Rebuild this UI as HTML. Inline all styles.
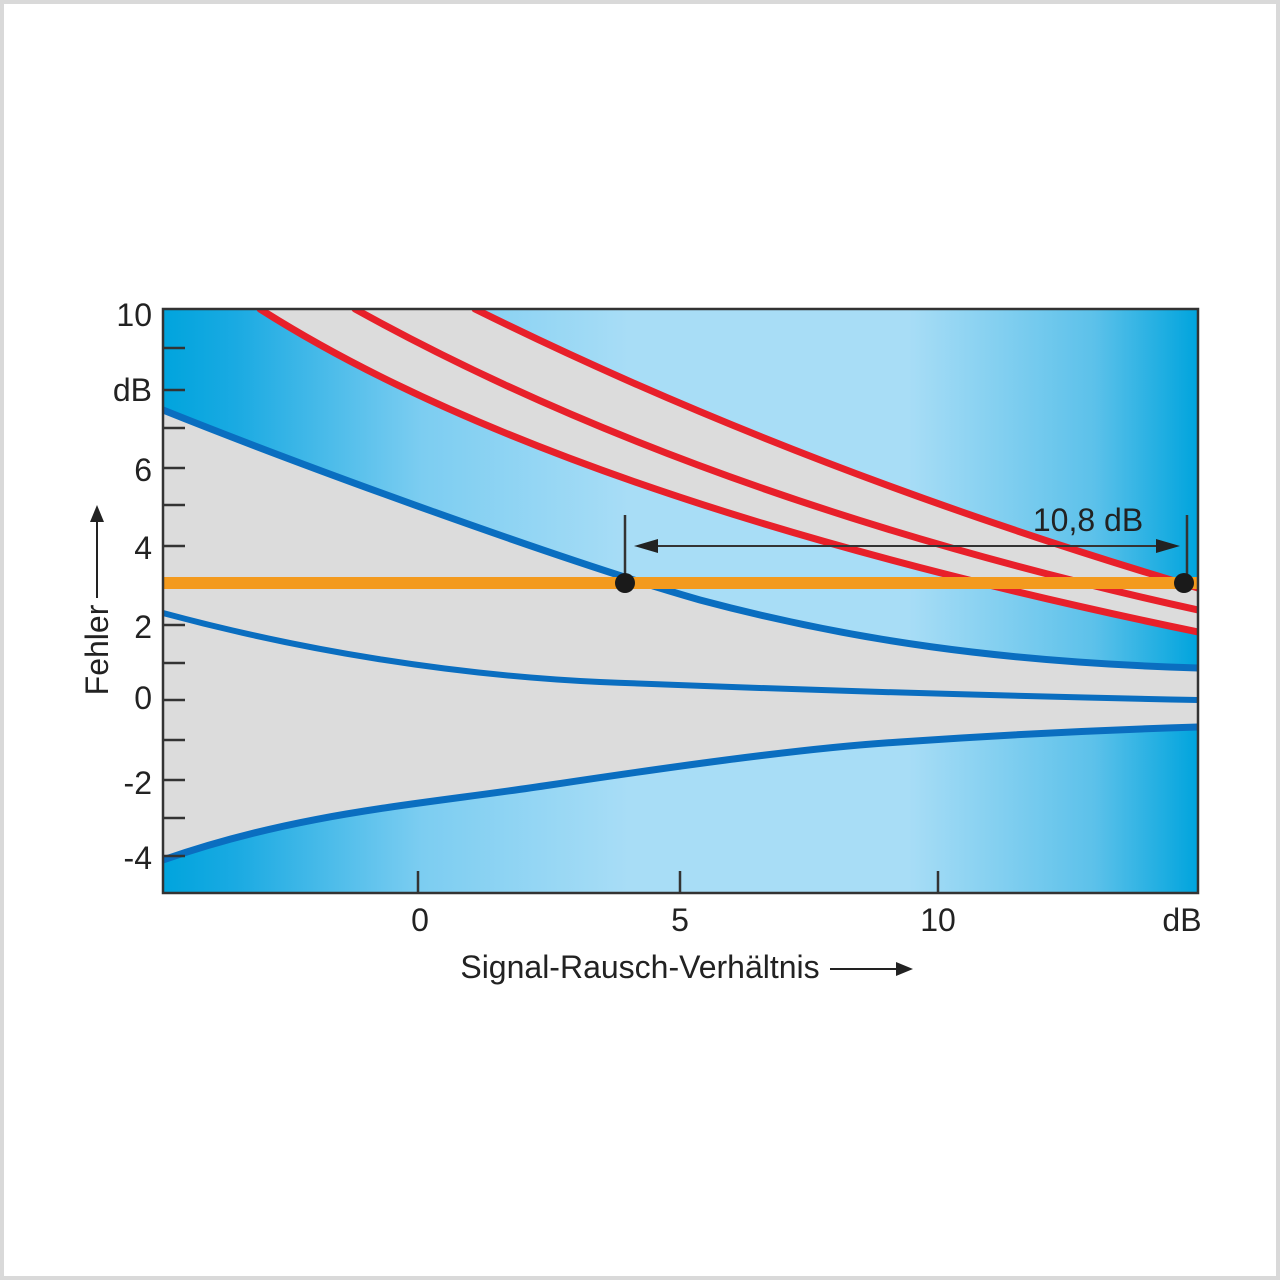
<!DOCTYPE html>
<html><head><style>
html,body{margin:0;padding:0;background:#fff}
</style></head><body>
<svg width="1280" height="1280" viewBox="0 0 1280 1280" xmlns="http://www.w3.org/2000/svg" font-family="Liberation Sans Narrow, Liberation Sans, sans-serif">
<defs>
<linearGradient id="bg" x1="163" y1="0" x2="1198" y2="0" gradientUnits="userSpaceOnUse">
<stop offset="0" stop-color="#00a4dd"/>
<stop offset="0.07" stop-color="#1aaae2"/>
<stop offset="0.25" stop-color="#7ccdf1"/>
<stop offset="0.45" stop-color="#a8ddf6"/>
<stop offset="0.72" stop-color="#a8ddf6"/>
<stop offset="0.9" stop-color="#5cc1ea"/>
<stop offset="1" stop-color="#00a4dd"/>
</linearGradient>
<clipPath id="c"><rect x="163" y="309" width="1035" height="584"/></clipPath>
</defs>
<rect x="2" y="2" width="1276" height="1276" fill="#fff" stroke="#d9d9d9" stroke-width="4"/>
<rect x="163" y="309" width="1035" height="584" fill="url(#bg)"/>
<g clip-path="url(#c)">
<path fill="#dcdcdc" d="M163,410 C300,465 560,560 700,600 C850,640 1000,662 1198,668 L1198,727 C1100,730 1000,735 900,742 C800,748 650,770 550,785 C418,805 300,812 163,860 Z"/>
<path fill="#dcdcdc" d="M260,309 Q560,500 1198,632 L1198,588 Q800,470 475,309 Z"/>
<g fill="none" stroke-linejoin="round" stroke-linecap="round">
<path stroke="#e8202a" stroke-width="7" d="M260,309 Q560,500 1198,632"/>
<path stroke="#e8202a" stroke-width="7" d="M355,309 Q700,500 1198,610"/>
<path stroke="#e8202a" stroke-width="7" d="M475,309 Q800,470 1198,588"/>
<path stroke="#0a6ec0" stroke-width="7" d="M163,410 C300,465 560,560 700,600 C850,640 1000,662 1198,668"/>
<path stroke="#0a6ec0" stroke-width="6" d="M163,613 C300,650 450,675 600,682 C800,690 1000,696 1198,700"/>
<path stroke="#0a6ec0" stroke-width="7" d="M163,860 C300,812 418,805 550,785 C650,770 800,748 900,742 C1000,735 1100,730 1198,727"/>
</g>
<rect x="163" y="577" width="1035" height="12" fill="#f39a1e"/>
</g>
<rect x="163" y="309" width="1035" height="584" fill="none" stroke="#333" stroke-width="2.5"/>
<g stroke="#333" stroke-width="2.5">
<line x1="163" y1="348" x2="185" y2="348"/><line x1="163" y1="390" x2="185" y2="390"/>
<line x1="163" y1="428" x2="185" y2="428"/><line x1="163" y1="468" x2="185" y2="468"/>
<line x1="163" y1="505" x2="185" y2="505"/><line x1="163" y1="546" x2="185" y2="546"/>
<line x1="163" y1="625" x2="185" y2="625"/><line x1="163" y1="663" x2="185" y2="663"/>
<line x1="163" y1="700" x2="185" y2="700"/><line x1="163" y1="740" x2="185" y2="740"/>
<line x1="163" y1="780" x2="185" y2="780"/><line x1="163" y1="818" x2="185" y2="818"/>
<line x1="163" y1="856" x2="185" y2="856"/>
<line x1="418" y1="871" x2="418" y2="893"/><line x1="680" y1="871" x2="680" y2="893"/>
<line x1="938" y1="871" x2="938" y2="893"/>
<line x1="625" y1="515" x2="625" y2="583"/><line x1="1187" y1="515" x2="1187" y2="583"/>
<line x1="640" y1="546" x2="1170" y2="546" stroke-width="2"/>
</g>
<polygon points="634,546 658,539 658,553" fill="#222"/>
<polygon points="1180,546 1156,539 1156,553" fill="#222"/>
<circle cx="625" cy="583" r="10" fill="#1a1a1a"/>
<circle cx="1184" cy="583" r="10" fill="#1a1a1a"/>
<g fill="#222" font-size="32" text-anchor="end">
<text x="152" y="326">10</text><text x="152" y="401">dB</text>
<text x="152" y="481">6</text><text x="152" y="559">4</text>
<text x="152" y="638">2</text><text x="152" y="709">0</text>
<text x="152" y="794">-2</text><text x="152" y="869">-4</text>
</g>
<g fill="#222" font-size="32" text-anchor="middle">
<text x="420" y="931">0</text><text x="680" y="931">5</text>
<text x="938" y="931">10</text><text x="1182" y="931">dB</text>
<text x="1088" y="531">10,8 dB</text>
<text x="640" y="978">Signal-Rausch-Verhältnis</text>
</g>
<line x1="830" y1="969" x2="900" y2="969" stroke="#222" stroke-width="2"/>
<polygon points="913,969 896,962 896,976" fill="#222"/>
<text x="0" y="0" font-size="32" fill="#222" text-anchor="middle" transform="translate(108,650) rotate(-90)">Fehler</text>
<line x1="97" y1="598" x2="97" y2="520" stroke="#222" stroke-width="2"/>
<polygon points="97,505 90,522 104,522" fill="#222"/>
</svg>
</body></html>
